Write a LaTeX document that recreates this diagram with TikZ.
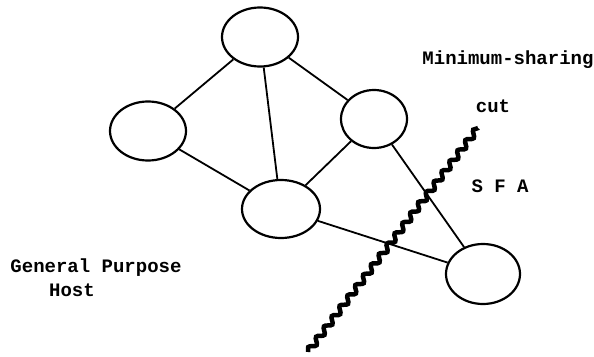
\documentclass[tikz,border=0pt]{standalone}
\usepackage{fontspec}
\setmonofont{Liberation Mono}
\usetikzlibrary{shapes.geometric,decorations.pathmorphing}
\tikzset{
  host/.style={draw, ellipse, line width=2.2pt, inner sep=0pt, minimum width=76pt, minimum height=59pt},
  link/.style={line width=1.8pt},
  cutline/.style={line width=4.5pt, decorate, decoration={snake, amplitude=2.8pt, segment length=13pt}},
  lbl/.style={font=\ttfamily\bfseries\fontsize{19}{21}\selectfont, inner sep=0pt}
}
\begin{document}
\begin{tikzpicture}[x=1pt, y=-1pt]
\useasboundingbox (0,0) rectangle (594,356);
\node[host] (top) at (260,37) {};
\node[host] (left) at (148,131) {};
\node[host, minimum width=66pt, minimum height=58pt] (rt) at (374,119) {};
\node[host, minimum width=78pt, minimum height=58pt] (mid) at (281,209) {};
\node[host, minimum width=74pt, minimum height=60pt] (br) at (483,274) {};
\draw[link] (top) -- (left);
\draw[link] (top) -- (mid);
\draw[link] (top) -- (rt);
\draw[link] (left) -- (mid);
\draw[link] (rt) -- (mid);
\draw[link] (rt) -- (br);
\draw[link] (mid) -- (br);
\coordinate (c1) at (308,352);
\coordinate (c2) at (478,128);
\draw[cutline] (c1) -- (c2);
\node[lbl] (ms) at (508,60) {Minimum-sharing};
\node[lbl] (cut) at (493,106) {cut};
\node[lbl] (sfa) at (500,186) {S F A};
\node[lbl] (gp) at (96,268) {General Purpose};
\node[lbl] (host) at (72,290) {Host};
\end{tikzpicture}
\end{document}
